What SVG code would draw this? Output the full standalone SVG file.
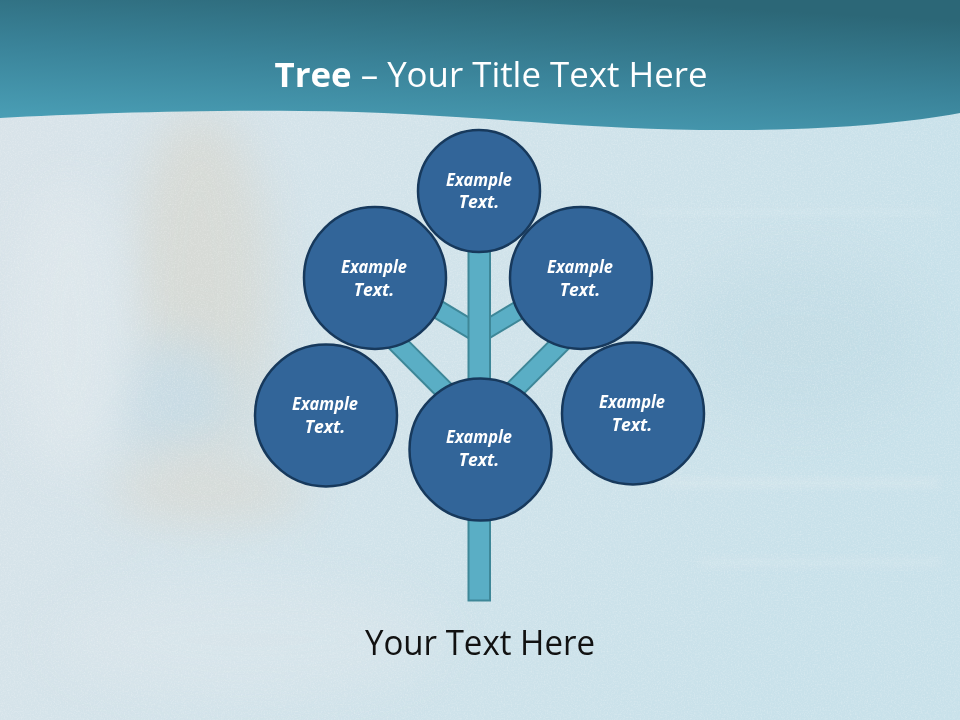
<svg xmlns="http://www.w3.org/2000/svg" width="960" height="720" viewBox="0 0 960 720">
  <defs>
    <linearGradient id="bgGrad" x1="0" y1="0" x2="1" y2="0.3">
      <stop offset="0" stop-color="#d9e3e9"/>
      <stop offset="0.45" stop-color="#d2e3ea"/>
      <stop offset="1" stop-color="#c8e1ea"/>
    </linearGradient>
    <linearGradient id="headGrad" x1="0.2" y1="1" x2="0.6" y2="0">
      <stop offset="0" stop-color="#4a9fb6"/>
      <stop offset="0.5" stop-color="#3a8399"/>
      <stop offset="1" stop-color="#2c6777"/>
    </linearGradient>
    <filter id="blur20" x="-50%" y="-50%" width="200%" height="200%">
      <feGaussianBlur stdDeviation="24"/>
    </filter>
    <filter id="blur6" x="-50%" y="-50%" width="200%" height="200%">
      <feGaussianBlur stdDeviation="5"/>
    </filter>
    <filter id="noise" x="0" y="0" width="100%" height="100%">
      <feTurbulence type="fractalNoise" baseFrequency="0.7" numOctaves="3" seed="4"/>
      <feColorMatrix type="matrix" values="0 0 0 0 1  0 0 0 0 1  0 0 0 0 1  1.6 0 0 0 -0.65"/>
    </filter>
    <style>
      .branch { fill: #5aaec5; stroke: #3e8798; stroke-width: 2; }
      .node circle { fill: #326599; stroke: #17395c; stroke-width: 2.5; }
      .node text { font-family: "Open Sans", "Liberation Sans", sans-serif; font-size: 17.5px; font-weight: bold; font-style: italic; fill: #ffffff; text-anchor: middle; }
      .title { font-family: "Open Sans", "Liberation Sans", sans-serif; font-size: 34px; fill: #ffffff; }
      .caption { font-family: "Open Sans", "Liberation Sans", sans-serif; font-size: 34px; fill: #111111; text-anchor: middle; }
    </style>
  </defs>

  <!-- background -->
  <rect x="0" y="0" width="960" height="720" fill="url(#bgGrad)"/>
  <g opacity="0.4">
    <ellipse cx="200" cy="290" rx="70" ry="180" fill="#d9cdb9" filter="url(#blur20)"/>
    <ellipse cx="170" cy="400" rx="70" ry="60" fill="#b7d0dc" filter="url(#blur20)"/>
    <ellipse cx="70" cy="330" rx="60" ry="150" fill="#e6ecef" filter="url(#blur20)"/>
    <ellipse cx="210" cy="490" rx="100" ry="35" fill="#dccfbd" filter="url(#blur20)"/>
    <ellipse cx="800" cy="340" rx="120" ry="80" fill="#bcd8e2" filter="url(#blur20)"/>
    <ellipse cx="250" cy="640" rx="200" ry="60" fill="#dfe7ec" filter="url(#blur20)"/>
  </g>
  <g opacity="0.45" filter="url(#blur6)">
    <rect x="660" y="480" width="280" height="6" fill="#e6edf0"/>
    <rect x="700" y="560" width="240" height="5" fill="#e3ecef"/>
    <rect x="640" y="210" width="300" height="5" fill="#dde9ee"/>
  </g>
  <rect x="0" y="0" width="960" height="720" filter="url(#noise)" opacity="0.3"/>

  <!-- header band -->
  <path d="M0,0 H960 V113 C900,124 820,131 700,130 C560,128 450,112 300,111 C180,110 80,114 0,118 Z" fill="url(#headGrad)"/>
  <text class="title" x="491" y="87" text-anchor="middle" textLength="433" lengthAdjust="spacingAndGlyphs"><tspan font-weight="bold">Tree</tspan> – Your Title Text Here</text>

  <!-- connectors: branches and trunk -->
  <g id="connectors">
    <rect class="branch" x="0" y="-9" width="90" height="18" transform="translate(479,334) rotate(211)"/>
    <rect class="branch" x="0" y="-9" width="90" height="18" transform="translate(479,334) rotate(329)"/>
    <rect class="branch" x="0" y="-9.5" width="120" height="19" transform="translate(479,425) rotate(225)"/>
    <rect class="branch" x="0" y="-9.5" width="120" height="19" transform="translate(479,425) rotate(315)"/>
    <rect class="branch" x="468.5" y="240" width="21.5" height="360.5"/>
  </g>

  <!-- nodes -->
  <g id="node-top" class="node">
    <circle cx="479" cy="191" r="61"/>
    <text x="479" y="186" textLength="66" lengthAdjust="spacingAndGlyphs">Example</text>
    <text x="479" y="208">Text.</text>
  </g>
  <g id="node-upper-left" class="node">
    <circle cx="375" cy="278" r="71"/>
    <text x="374" y="273" textLength="66" lengthAdjust="spacingAndGlyphs">Example</text>
    <text x="374" y="296">Text.</text>
  </g>
  <g id="node-upper-right" class="node">
    <circle cx="581" cy="278" r="71"/>
    <text x="580" y="273" textLength="66" lengthAdjust="spacingAndGlyphs">Example</text>
    <text x="580" y="296">Text.</text>
  </g>
  <g id="node-lower-left" class="node">
    <circle cx="326" cy="415.5" r="71"/>
    <text x="325" y="410" textLength="66" lengthAdjust="spacingAndGlyphs">Example</text>
    <text x="325" y="433">Text.</text>
  </g>
  <g id="node-center" class="node">
    <circle cx="480.5" cy="449.5" r="71"/>
    <text x="479" y="443" textLength="66" lengthAdjust="spacingAndGlyphs">Example</text>
    <text x="479" y="466">Text.</text>
  </g>
  <g id="node-lower-right" class="node">
    <circle cx="633" cy="413.5" r="71"/>
    <text x="632" y="408" textLength="66" lengthAdjust="spacingAndGlyphs">Example</text>
    <text x="632" y="431">Text.</text>
  </g>

  <text class="caption" x="480" y="655" textLength="230" lengthAdjust="spacingAndGlyphs">Your Text Here</text>
</svg>
